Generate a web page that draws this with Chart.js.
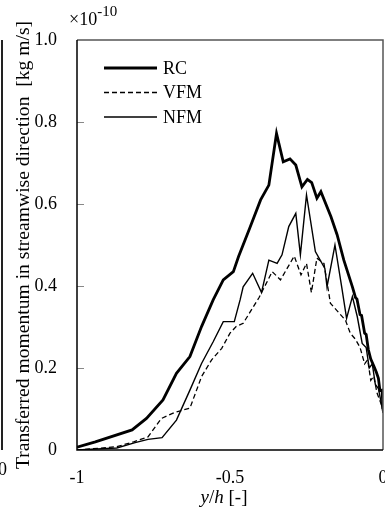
<!DOCTYPE html>
<html lang="en">
<head>
<meta charset="utf-8">
<title>Transferred momentum</title>
<style>
  body { margin: 0; background: #fff; }
  .wrap { position: relative; width: 385px; height: 508px; overflow: hidden;
          font-family: "Liberation Serif", "Times New Roman", serif; color: #000; }
  .wrap canvas { position: absolute; left: 0; top: 0; }
  .mult { position: absolute; left: 69px; top: 9px; font-size: 18px; line-height: 20px; }
  .mult span { position: relative; top: -9px; font-size: 15px; }
  .xlabel { position: absolute; left: 150px; width: 148px; top: 486px; text-align: center;
            font-size: 19px; line-height: 22px; }
  .edge { position: absolute; left: 1px; top: 40px; width: 1.5px; height: 410px; background: #222; }
  .edge0 { position: absolute; left: -2px; top: 458px; font-size: 18px; line-height: 22px; }
</style>
</head>
<body>
<div class="wrap">
  <canvas id="myChart" width="385" height="508"></canvas>
  <div class="edge"></div>
  <div class="edge0">0</div>
  <div class="mult">&times;10<span>-10</span></div>
  <div class="xlabel"><i>y</i>/<i>h</i> [-]</div>
</div>
<script src="https://cdn.jsdelivr.net/npm/chart.js/dist/chart.umd.min.js"></script>
<script>
  // y/h positions and momentum values (x1e-10 kg m/s)
  const rcPos = [-1.00, -0.94, -0.82, -0.773, -0.719, -0.675, -0.631, -0.593, -0.555, -0.522,
                 -0.489, -0.472, -0.436, -0.400, -0.373, -0.348, -0.326, -0.304, -0.285, -0.265,
                 -0.247, -0.233, -0.216, -0.203, -0.170, -0.150, -0.128, -0.100, -0.090, -0.085,
                 -0.075, -0.070, -0.060, -0.055, -0.048, -0.040, -0.030, -0.022, -0.015, -0.010,
                 -0.003, 0.0];
  const rcVal = [0.007, 0.020, 0.049, 0.077, 0.122, 0.187, 0.228, 0.301, 0.366, 0.415,
                 0.435, 0.472, 0.540, 0.610, 0.646, 0.772, 0.703, 0.710, 0.695, 0.642,
                 0.660, 0.652, 0.614, 0.630, 0.569, 0.525, 0.463, 0.398, 0.372, 0.368,
                 0.330, 0.328, 0.285, 0.282, 0.245, 0.222, 0.205, 0.190, 0.175, 0.145,
                 0.146, 0.100];

  const vfmPos = [-1.00, -0.87, -0.815, -0.768, -0.724, -0.680, -0.631, -0.593, -0.560, -0.527,
                  -0.500, -0.480, -0.457, -0.405, -0.362, -0.335, -0.290, -0.268, -0.250, -0.234,
                  -0.216, -0.193, -0.177, -0.172, -0.123, -0.107, -0.090, -0.075, -0.060, -0.050,
                  -0.040, -0.030, -0.020, -0.010, 0.0];
  const vfmVal = [0.000, 0.008, 0.020, 0.032, 0.077, 0.092, 0.102, 0.179, 0.220, 0.248,
                  0.285, 0.301, 0.309, 0.372, 0.435, 0.415, 0.473, 0.427, 0.455, 0.384,
                  0.468, 0.455, 0.382, 0.358, 0.317, 0.285, 0.270, 0.250, 0.210, 0.220,
                  0.170, 0.180, 0.140, 0.120, 0.100];

  const nfmPos = [-1.00, -0.87, -0.81, -0.768, -0.722, -0.675, -0.631, -0.593, -0.555, -0.522,
                  -0.486, -0.467, -0.457, -0.426, -0.397, -0.373, -0.346, -0.330, -0.308, -0.285,
                  -0.270, -0.250, -0.221, -0.190, -0.183, -0.157, -0.135, -0.119, -0.100, -0.084,
                  -0.068, -0.055, -0.045, -0.035, -0.025, -0.015, -0.007, 0.0];
  const nfmVal = [0.000, 0.005, 0.018, 0.026, 0.030, 0.073, 0.146, 0.211, 0.264, 0.313,
                  0.313, 0.366, 0.398, 0.431, 0.384, 0.463, 0.455, 0.476, 0.545, 0.577,
                  0.476, 0.622, 0.484, 0.443, 0.398, 0.500, 0.398, 0.321, 0.374, 0.325,
                  0.260, 0.250, 0.200, 0.210, 0.160, 0.150, 0.120, 0.090];

  const xTicks = [-1, -0.5, 0];
  const xTickLabels = ['-1', '-0.5', '0'];
  const yTicks = [0, 0.2, 0.4, 0.6, 0.8, 1.0];
  const yTickLabels = ['0', '0.2', '0.4', '0.6', '0.8', '1.0'];

  const toPoints = (xs, ys) => xs.map((x, i) => ({ x: x, y: ys[i] }));
  const serif = '"Liberation Serif", "Times New Roman", serif';

  // legend drawn inside the plot, top left
  const innerLegend = {
    id: 'innerLegend',
    afterDatasetsDraw(chart) {
      const { ctx, chartArea } = chart;
      chart.data.datasets.forEach((ds, i) => {
        const y = chartArea.top + 28 + i * 24.5;
        const x0 = chartArea.left + 27;
        ctx.save();
        ctx.strokeStyle = ds.borderColor;
        ctx.lineWidth = ds.borderWidth;
        ctx.setLineDash(ds.borderDash || []);
        ctx.beginPath();
        ctx.moveTo(x0, y);
        ctx.lineTo(x0 + 53, y);
        ctx.stroke();
        ctx.setLineDash([]);
        ctx.fillStyle = '#000';
        ctx.font = '18px ' + serif;
        ctx.textBaseline = 'middle';
        ctx.fillText(ds.label, x0 + 59, y + 1);
        ctx.restore();
      });
    }
  };

  // box around the plot plus short inward ticks on the y axis
  const frame = {
    id: 'frame',
    afterDraw(chart) {
      const { ctx, chartArea: a, scales } = chart;
      ctx.save();
      ctx.strokeStyle = '#888';
      ctx.lineWidth = 1;
      yTicks.slice(1, -1).forEach(v => {
        const py = Math.round(scales.y.getPixelForValue(v)) + 0.5;
        ctx.beginPath();
        ctx.moveTo(a.left, py);
        ctx.lineTo(a.left + 7, py);
        ctx.stroke();
      });
      ctx.lineWidth = 1.5;
      ctx.strokeStyle = '#555';
      ctx.beginPath();
      ctx.moveTo(a.left, a.top);
      ctx.lineTo(a.right, a.top);
      ctx.lineTo(a.right, a.bottom);
      ctx.stroke();
      ctx.strokeStyle = '#000';
      ctx.beginPath();
      ctx.moveTo(a.left, a.top);
      ctx.lineTo(a.left, a.bottom);
      ctx.lineTo(a.right, a.bottom);
      ctx.stroke();
      ctx.restore();
    }
  };

  const data = {
    datasets: [{
      label: 'RC',
      data: toPoints(rcPos, rcVal),
      borderColor: '#000',
      borderWidth: 2.8,
      showLine: true,
      pointRadius: 0,
      tension: 0
    }, {
      label: 'VFM',
      data: toPoints(vfmPos, vfmVal),
      borderColor: '#000',
      borderWidth: 1.3,
      borderDash: [5, 3],
      showLine: true,
      pointRadius: 0,
      tension: 0
    }, {
      label: 'NFM',
      data: toPoints(nfmPos, nfmVal),
      borderColor: '#000',
      borderWidth: 1.4,
      showLine: true,
      pointRadius: 0,
      tension: 0
    }]
  };

  const config = {
    type: 'scatter',
    data,
    options: {
      responsive: false,
      animation: false,
      devicePixelRatio: 1,
      layout: { padding: { left: 0, right: 2, top: 40, bottom: 0 } },
      plugins: { legend: { display: false }, tooltip: { enabled: false } },
      scales: {
        x: {
          type: 'linear',
          min: -1,
          max: 0,
          grid: { display: false },
          border: { display: false },
          afterBuildTicks: s => { s.ticks = xTicks.map(v => ({ value: v })); },
          afterFit: s => { s.height = 58; s.paddingLeft = 0; s.paddingRight = 0; },
          ticks: {
            color: '#000',
            padding: 9,
            maxRotation: 0,
            font: { family: serif, size: 18 },
            callback: v => xTickLabels[xTicks.indexOf(v)]
          }
        },
        y: {
          min: 0,
          max: 1,
          grid: { display: false },
          border: { display: false },
          afterBuildTicks: s => { s.ticks = yTicks.map(v => ({ value: v })); },
          afterFit: s => { s.width = 77; },
          ticks: {
            color: '#000',
            padding: 12,
            font: { family: serif, size: 18 },
            callback: v => yTickLabels[yTicks.indexOf(v)]
          },
          title: {
            display: true,
            text: 'Transferred momentum in streamwise direction  [kg m/s]',
            color: '#000',
            font: { family: serif, size: 19.6 },
            padding: { top: 12, bottom: 0 }
          }
        }
      }
    },
    plugins: [innerLegend, frame]
  };

  const myChart = new Chart(document.getElementById('myChart'), config);
</script>
</body>
</html>
